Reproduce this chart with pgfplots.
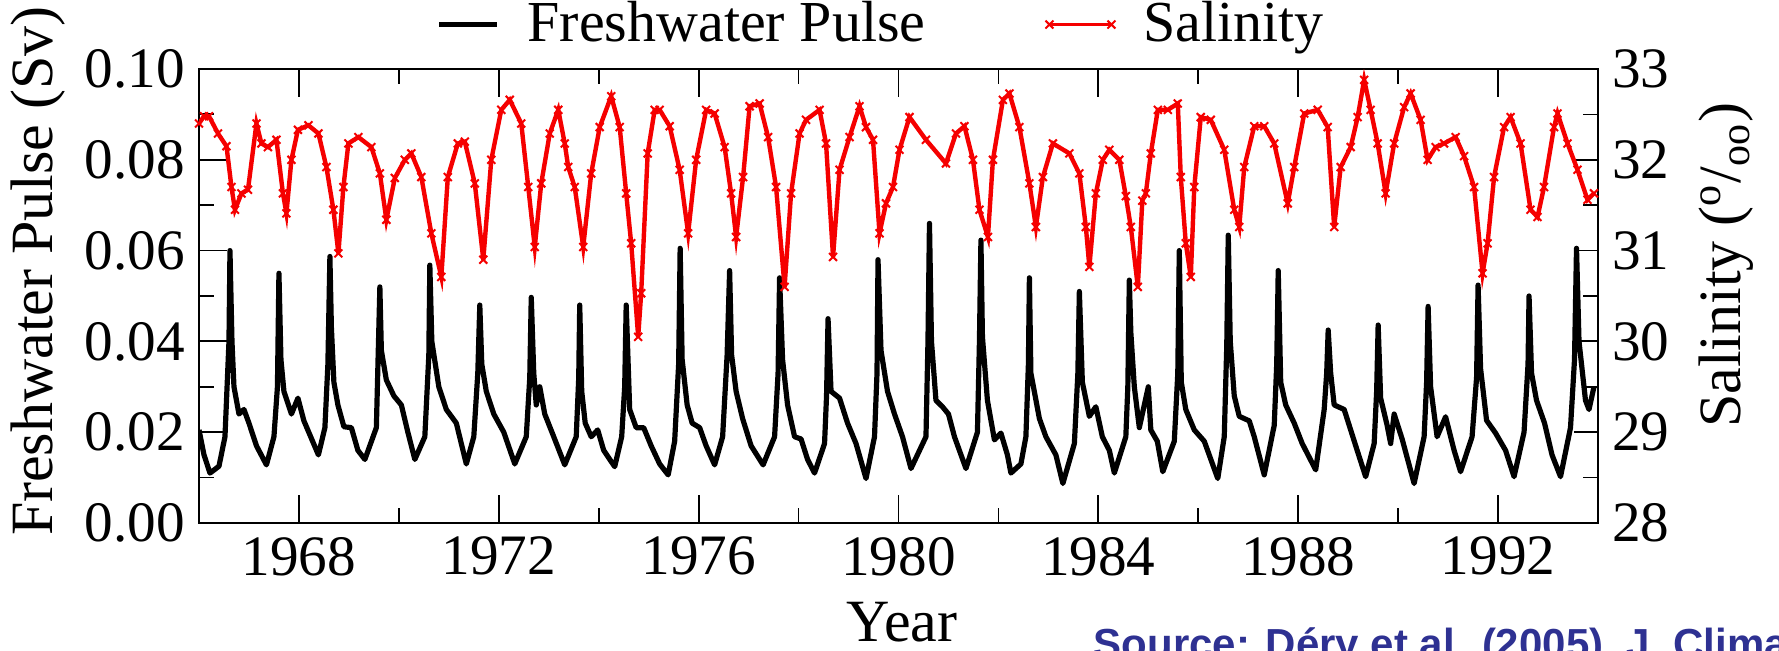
\documentclass[border=0pt]{standalone}
\usepackage{fontspec}
\setmainfont{Liberation Serif}
\newfontfamily\srcfont{Liberation Sans}
\usepackage{pgfplots}
\usepackage{pgfplotstable}
\pgfplotsset{compat=1.18}
\definecolor{srcblue}{RGB}{46,49,146}
\definecolor{salred}{RGB}{245,0,0}
\pgfplotsset{
  linelegend/.style={legend image code/.code={\draw[##1] (0pt,0pt) -- (14.5pt,0pt);}},
  marklegend/.style={legend image code/.code={\draw[##1,line width=0.8pt] plot coordinates {(0pt,0pt) (15.5pt,0pt)};}},
}

\pgfplotstableread{
x y
1966.00 0.0205
1966.10 0.0150
1966.22 0.0110
1966.40 0.0125
1966.52 0.0190
1966.60 0.0400
1966.62 0.0600
1966.66 0.0400
1966.70 0.0300
1966.80 0.0240
1966.90 0.0250
1967.00 0.0220
1967.15 0.0170
1967.35 0.0128
1967.50 0.0190
1967.57 0.0300
1967.60 0.0550
1967.64 0.0360
1967.70 0.0290
1967.85 0.0240
1967.98 0.0275
1968.10 0.0225
1968.39 0.0150
1968.52 0.0210
1968.58 0.0350
1968.62 0.0587
1968.65 0.0430
1968.70 0.0310
1968.78 0.0260
1968.90 0.0212
1969.05 0.0210
1969.18 0.0160
1969.32 0.0140
1969.55 0.0210
1969.62 0.0520
1969.65 0.0380
1969.75 0.0315
1969.90 0.0280
1970.05 0.0260
1970.18 0.0200
1970.32 0.0140
1970.52 0.0190
1970.60 0.0370
1970.62 0.0568
1970.66 0.0400
1970.80 0.0300
1970.95 0.0250
1971.15 0.0220
1971.35 0.0130
1971.50 0.0190
1971.58 0.0330
1971.62 0.0480
1971.66 0.0350
1971.75 0.0290
1971.90 0.0240
1972.10 0.0200
1972.32 0.0130
1972.55 0.0190
1972.62 0.0320
1972.65 0.0497
1972.70 0.0330
1972.75 0.0260
1972.82 0.0300
1972.92 0.0240
1973.10 0.0190
1973.32 0.0128
1973.55 0.0190
1973.60 0.0320
1973.62 0.0480
1973.66 0.0290
1973.73 0.0220
1973.85 0.0190
1973.98 0.0205
1974.10 0.0160
1974.32 0.0124
1974.46 0.0190
1974.52 0.0300
1974.55 0.0480
1974.62 0.0250
1974.75 0.0210
1974.90 0.0210
1975.05 0.0170
1975.22 0.0130
1975.39 0.0106
1975.52 0.0180
1975.60 0.0350
1975.63 0.0605
1975.67 0.0360
1975.77 0.0260
1975.87 0.0220
1976.02 0.0210
1976.15 0.0170
1976.32 0.0128
1976.48 0.0190
1976.57 0.0370
1976.62 0.0556
1976.66 0.0370
1976.75 0.0290
1976.88 0.0230
1977.05 0.0170
1977.29 0.0128
1977.52 0.0190
1977.59 0.0330
1977.62 0.0540
1977.68 0.0360
1977.78 0.0260
1977.92 0.0190
1978.05 0.0185
1978.18 0.0140
1978.32 0.0110
1978.52 0.0175
1978.56 0.0280
1978.59 0.0450
1978.65 0.0290
1978.82 0.0275
1978.98 0.0220
1979.15 0.0175
1979.35 0.0098
1979.52 0.0190
1979.57 0.0330
1979.59 0.0580
1979.65 0.0380
1979.78 0.0290
1979.92 0.0240
1980.08 0.0190
1980.25 0.0120
1980.55 0.0190
1980.59 0.0400
1980.62 0.0660
1980.66 0.0400
1980.75 0.0270
1980.88 0.0256
1981.00 0.0240
1981.12 0.0190
1981.35 0.0120
1981.58 0.0200
1981.62 0.0400
1981.65 0.0623
1981.68 0.0410
1981.78 0.0270
1981.92 0.0183
1982.05 0.0198
1982.18 0.0150
1982.25 0.0110
1982.45 0.0130
1982.55 0.0190
1982.60 0.0350
1982.62 0.0540
1982.65 0.0330
1982.82 0.0230
1982.95 0.0190
1983.15 0.0150
1983.29 0.0087
1983.52 0.0175
1983.59 0.0330
1983.62 0.0510
1983.68 0.0310
1983.82 0.0235
1983.95 0.0256
1984.08 0.0190
1984.22 0.0160
1984.32 0.0110
1984.55 0.0190
1984.59 0.0300
1984.62 0.0535
1984.65 0.0420
1984.72 0.0300
1984.82 0.0210
1985.00 0.0300
1985.05 0.0205
1985.18 0.0180
1985.29 0.0113
1985.52 0.0180
1985.59 0.0330
1985.62 0.0600
1985.66 0.0310
1985.75 0.0250
1985.92 0.0205
1986.12 0.0180
1986.39 0.0098
1986.52 0.0190
1986.57 0.0390
1986.60 0.0634
1986.64 0.0400
1986.72 0.0280
1986.82 0.0235
1987.02 0.0225
1987.12 0.0190
1987.32 0.0106
1987.52 0.0215
1987.57 0.0350
1987.60 0.0556
1987.65 0.0310
1987.75 0.0260
1987.92 0.0220
1988.08 0.0175
1988.35 0.0117
1988.52 0.0250
1988.57 0.0330
1988.60 0.0425
1988.65 0.0330
1988.72 0.0260
1988.92 0.0250
1989.05 0.0205
1989.18 0.0160
1989.35 0.0102
1989.52 0.0175
1989.57 0.0290
1989.60 0.0436
1989.65 0.0275
1989.78 0.0215
1989.85 0.0175
1989.92 0.0240
1990.08 0.0185
1990.32 0.0087
1990.52 0.0190
1990.57 0.0310
1990.60 0.0477
1990.65 0.0300
1990.78 0.0190
1990.95 0.0234
1991.12 0.0160
1991.25 0.0113
1991.48 0.0190
1991.57 0.0320
1991.60 0.0524
1991.65 0.0340
1991.77 0.0226
1991.95 0.0198
1992.15 0.0160
1992.32 0.0102
1992.52 0.0200
1992.60 0.0350
1992.62 0.0500
1992.67 0.0330
1992.77 0.0270
1992.93 0.0220
1993.08 0.0150
1993.25 0.0102
1993.45 0.0210
1993.53 0.0360
1993.57 0.0605
1993.62 0.0400
1993.75 0.0270
1993.82 0.0250
1993.92 0.0300
}\fwdata

\pgfplotstableread{
x y
1966.00 32.40
1966.10 32.48
1966.20 32.48
1966.38 32.29
1966.55 32.15
1966.65 31.70
1966.72 31.45
1966.85 31.63
1966.98 31.67
1967.15 32.40
1967.25 32.18
1967.38 32.14
1967.55 32.22
1967.68 31.63
1967.75 31.41
1967.85 32.00
1967.98 32.33
1968.19 32.38
1968.39 32.29
1968.55 31.92
1968.69 31.45
1968.79 30.97
1968.89 31.70
1968.99 32.18
1969.19 32.25
1969.45 32.14
1969.62 31.85
1969.75 31.34
1969.92 31.80
1970.12 32.00
1970.25 32.07
1970.45 31.81
1970.65 31.19
1970.85 30.71
1970.98 31.81
1971.18 32.18
1971.32 32.20
1971.52 31.74
1971.69 30.90
1971.85 32.00
1972.05 32.55
1972.22 32.66
1972.45 32.40
1972.59 31.70
1972.72 31.04
1972.85 31.74
1973.02 32.29
1973.19 32.55
1973.32 32.18
1973.39 31.92
1973.52 31.70
1973.69 31.04
1973.85 31.85
1974.02 32.36
1974.25 32.70
1974.42 32.36
1974.55 31.63
1974.65 31.08
1974.79 30.05
1974.85 30.53
1974.98 32.07
1975.12 32.55
1975.22 32.55
1975.42 32.37
1975.62 31.89
1975.79 31.19
1975.95 32.00
1976.15 32.55
1976.32 32.51
1976.52 32.14
1976.65 31.63
1976.75 31.15
1976.89 31.81
1977.02 32.59
1977.22 32.62
1977.39 32.25
1977.55 31.70
1977.72 30.60
1977.85 31.63
1978.02 32.29
1978.15 32.44
1978.42 32.55
1978.55 32.18
1978.69 30.93
1978.82 31.89
1979.02 32.25
1979.22 32.59
1979.35 32.36
1979.49 32.22
1979.62 31.19
1979.75 31.52
1979.89 31.70
1980.02 32.11
1980.22 32.47
1980.55 32.22
1980.95 31.96
1981.15 32.29
1981.32 32.37
1981.49 32.00
1981.62 31.45
1981.79 31.15
1981.89 32.00
1982.09 32.66
1982.22 32.73
1982.42 32.36
1982.62 31.74
1982.75 31.26
1982.89 31.81
1983.09 32.18
1983.42 32.07
1983.62 31.85
1983.75 31.26
1983.82 30.82
1983.95 31.63
1984.09 32.00
1984.22 32.11
1984.42 32.00
1984.55 31.60
1984.65 31.26
1984.79 30.60
1984.88 31.55
1984.95 31.63
1985.05 32.07
1985.19 32.55
1985.39 32.55
1985.59 32.62
1985.65 31.81
1985.75 31.08
1985.85 30.71
1985.92 31.70
1986.05 32.47
1986.25 32.44
1986.52 32.11
1986.72 31.45
1986.82 31.26
1986.92 31.92
1987.12 32.37
1987.32 32.37
1987.52 32.18
1987.79 31.52
1987.92 31.92
1988.12 32.51
1988.39 32.55
1988.59 32.36
1988.72 31.26
1988.85 31.92
1989.05 32.14
1989.19 32.47
1989.32 32.88
1989.45 32.55
1989.59 32.18
1989.75 31.63
1989.92 32.18
1990.12 32.58
1990.25 32.73
1990.45 32.44
1990.59 32.00
1990.75 32.14
1990.92 32.18
1991.15 32.25
1991.32 32.04
1991.52 31.70
1991.69 30.75
1991.79 31.08
1991.92 31.81
1992.12 32.36
1992.25 32.47
1992.45 32.18
1992.65 31.45
1992.79 31.37
1992.92 31.70
1993.12 32.36
1993.19 32.51
1993.39 32.18
1993.59 31.89
1993.79 31.56
1993.92 31.63
}\saldata

\begin{document}
\begin{tikzpicture}
\pgfplotsset{
  common/.style={
    scale only axis, width=349.75pt, height=113.5pt,
    at={(0pt,0pt)}, anchor=south west,
    xmin=1966, xmax=1994,
    tick align=inside,
    tick label style={font=\fontsize{14.3}{16}\selectfont},
    label style={font=\fontsize{15}{17}\selectfont},
    /pgf/number format/assume math mode=true,
    axis line style={line width=0.45pt},
    every tick/.append style={black, line width=0.45pt},
    minor tick length=3.75pt,
  }
}
\begin{axis}[common,
  ymin=0, ymax=0.1,
  xtick={1968,1972,1976,1980,1984,1988,1992},
  minor x tick num=1,
  ytick={0,0.02,0.04,0.06,0.08,0.1},
  minor y tick num=1,
  ytick pos=left, xtick pos=both,
  major tick length=7pt,
  xticklabel style={/pgf/number format/1000 sep={}},
  yticklabel style={/pgf/number format/.cd, fixed, fixed zerofill, precision=2},
  xlabel={Year}, ylabel={Freshwater Pulse (Sv)},
  xlabel style={at={(axis description cs:0.5025,-0.261)}, anchor=base},
  ylabel style={at={(axis description cs:-0.105,0.555)}, anchor=base},
]
\addplot[black, line width=1.3pt, line join=round] table {\fwdata};
\end{axis}
\begin{axis}[common,
  hide x axis, axis y line*=right,
  ymin=28, ymax=33,
  ytick={28,29,30,31,32,33},
  minor y tick num=1,
  major tick length=6pt,
  ylabel={Salinity (\textsuperscript{o}/\textsubscript{oo})},
  ylabel style={at={(axis description cs:1.1022,0.568)}, anchor=base},
  legend columns=2,
  legend style={at={(axis description cs:0.49,1.01)}, anchor=south,
    draw=none, fill=none, font=\fontsize{14.5}{16}\selectfont,
    /tikz/every odd column/.append style={column sep=5pt},
    /tikz/every even column/.append style={column sep=28pt}},
]
\addlegendimage{black, line width=1.1pt, linelegend}
\addlegendentry{Freshwater Pulse}
\addplot[salred, line width=1.1pt, mark=x, mark size=1.4pt,
  mark options={line width=0.5pt, solid}, marklegend]
  table {\saldata};
\addlegendentry{Salinity}
\end{axis}
\node[anchor=base west, inner sep=0pt, text=srcblue,
  font=\srcfont\bfseries\fontsize{10.5}{12}\selectfont] at (223.5pt,-34pt)
  {Source: Déry et al. (2005), J. Climate};
\pgfresetboundingbox
\useasboundingbox (-49.75pt,-32pt) rectangle (395pt,130.75pt);
\end{tikzpicture}
\end{document}
